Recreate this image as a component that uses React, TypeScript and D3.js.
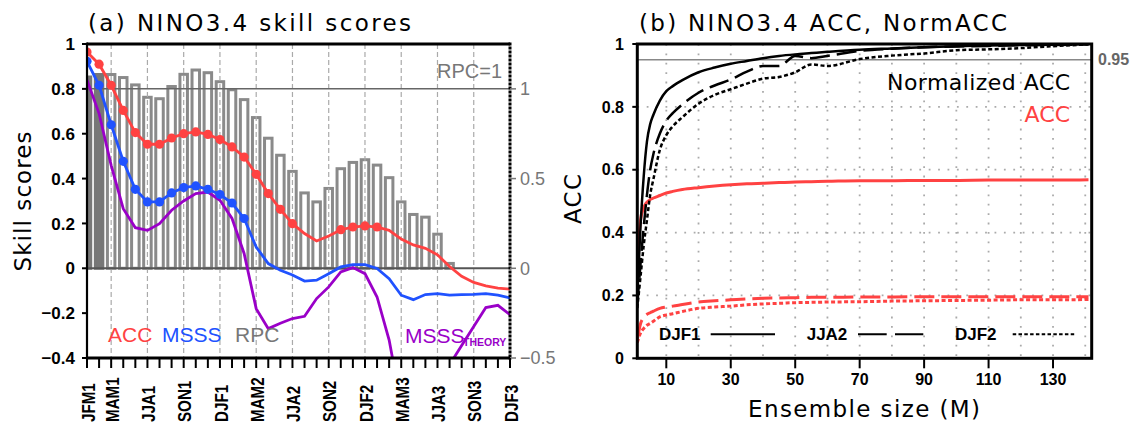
import React from 'react';
import * as d3 from 'd3';

// ---------- Panel (a) data ----------
const seasons = [
  'JFM1','FMA1','MAM1','AMJ1','MJJ1','JJA1','JAS1','ASO1','SON1','OND1','NDJ1','DJF1',
  'JFM2','FMA2','MAM2','AMJ2','MJJ2','JJA2','JAS2','ASO2','SON2','OND2','NDJ2','DJF2',
  'JFM3','FMA3','MAM3','AMJ3','MJJ3','JJA3','JAS3','ASO3','SON3','OND3','NDJ3','DJF3',
];
const labeledSeasons = ['JFM1','MAM1','JJA1','SON1','DJF1','MAM2','JJA2','SON2','DJF2','MAM3','JJA3','SON3','DJF3'];
const yTicksA = [-0.4, -0.2, 0, 0.2, 0.4, 0.6, 0.8, 1];
const yTicksR = [-0.5, 0, 0.5, 1];

const rpc = [
  1.066, 1.08, 1.08, 1.063, 1.022, 0.953, 0.945, 1.013, 1.081, 1.105, 1.09, 1.04,
  0.995, 0.94, 0.84, 0.725, 0.63, 0.54, 0.42, 0.37, 0.445, 0.555, 0.59, 0.605,
  0.575, 0.505, 0.37, 0.3, 0.285, 0.19, 0.027, 0, 0, 0, 0, 0,
];
const rpcFilled = ['JFM1', 'FMA1'];

const acc = [
  0.964, 0.91, 0.816, 0.704, 0.605, 0.553, 0.553, 0.581, 0.6, 0.608, 0.597, 0.574,
  0.541, 0.496, 0.419, 0.333, 0.263, 0.199, 0.155, 0.122, 0.144, 0.172, 0.184, 0.189,
  0.184, 0.169, 0.13, 0.104, 0.089, 0.06, 0.008, -0.036, -0.063, -0.078, -0.088, -0.093,
];
const accMarked = [
  'JFM1','FMA1','MAM1','AMJ1','MJJ1','JJA1','JAS1','ASO1','SON1','OND1','NDJ1','DJF1',
  'JFM2','FMA2','MAM2','AMJ2','MJJ2','JJA2','OND2','NDJ2','DJF2','JFM3',
];

const msss = [
  0.923, 0.816, 0.64, 0.477, 0.352, 0.296, 0.296, 0.336, 0.36, 0.367, 0.352, 0.329,
  0.291, 0.222, 0.095, 0.021, -0.009, -0.03, -0.057, -0.053, -0.024, 0.006, 0.016, 0.016,
  -0.001, -0.046, -0.12, -0.14, -0.117, -0.113, -0.12, -0.117, -0.116, -0.113, -0.12, -0.132,
];
const msssMarked = [
  'JFM1','FMA1','MAM1','AMJ1','MJJ1','JJA1','JAS1','ASO1','SON1','OND1','NDJ1','DJF1','JFM2','FMA2',
];

const msssTheory = [
  0.84, 0.69, 0.459, 0.266, 0.181, 0.169, 0.199, 0.259, 0.3, 0.333, 0.34, 0.303,
  0.222, 0.066, -0.18, -0.269, -0.245, -0.224, -0.214, -0.135, -0.083, -0.016, 0.003, -0.024,
  -0.128, -0.32, -0.61, -0.8, -0.8, -0.65, -0.43, -0.344, -0.26, -0.175, -0.165, -0.207,
];

// ---------- Panel (b) data ----------
const ensM = [1, 2, 3, 4, 5, 6, 8, 10, 12, 15, 20, 25, 30, 35, 40, 45, 50, 55, 60, 70, 80, 90, 100, 110, 120, 130, 141];
const normDJF1 = [0.2, 0.42, 0.58, 0.69, 0.745, 0.775, 0.82, 0.85, 0.866, 0.885, 0.91, 0.925, 0.937, 0.946, 0.955, 0.962, 0.967, 0.971, 0.975, 0.982, 0.986, 0.99, 0.993, 0.995, 0.997, 0.998, 1.0];
const normJJA2 = [0.17, 0.3, 0.42, 0.52, 0.6, 0.65, 0.715, 0.756, 0.78, 0.808, 0.845, 0.868, 0.887, 0.912, 0.93, 0.93, 0.962, 0.955, 0.962, 0.978, 0.985, 0.99, 0.992, 0.994, 0.996, 0.997, 0.999];
const normDJF2 = [0.16, 0.26, 0.36, 0.44, 0.52, 0.57, 0.663, 0.71, 0.738, 0.767, 0.81, 0.838, 0.856, 0.874, 0.89, 0.895, 0.91, 0.935, 0.93, 0.952, 0.963, 0.97, 0.98, 0.983, 0.987, 0.993, 0.999];
const accDJF1 = [0.31, 0.44, 0.48, 0.497, 0.505, 0.51, 0.518, 0.526, 0.531, 0.537, 0.543, 0.548, 0.552, 0.555, 0.557, 0.559, 0.561, 0.562, 0.563, 0.565, 0.565, 0.566, 0.566, 0.567, 0.567, 0.567, 0.568];
const accJJA2 = [0.06, 0.11, 0.13, 0.14, 0.145, 0.15, 0.159, 0.163, 0.166, 0.171, 0.179, 0.183, 0.186, 0.189, 0.191, 0.192, 0.193, 0.194, 0.194, 0.195, 0.195, 0.196, 0.196, 0.196, 0.196, 0.196, 0.196];
const accDJF2 = [0.05, 0.08, 0.095, 0.105, 0.111, 0.118, 0.132, 0.138, 0.142, 0.149, 0.159, 0.163, 0.166, 0.17, 0.173, 0.175, 0.177, 0.178, 0.179, 0.18, 0.182, 0.183, 0.184, 0.185, 0.186, 0.186, 0.187];
const xTicksB = [10, 30, 50, 70, 90, 110, 130];
const xGridB = [10, 20, 30, 40, 50, 60, 70, 80, 90, 100, 110, 120, 130, 140];
const yTicksB = [0, 0.2, 0.4, 0.6, 0.8, 1];
const yGridB = [0.2, 0.4, 0.6, 0.8];
const refLevel = 0.95;

const RED = '#ff4242';
const BLUE = '#2052ff';
const PURPLE = '#9a00c8';
const BARGRAY = '#8a8a8a';
const TITLE_FONT = '"DejaVu Sans", sans-serif';
const TICK_FONT = '"Liberation Sans", Arial, sans-serif';

const fmt = (v: number) => {
  const s = d3.format('~g')(Math.round(v * 100) / 100);
  return s.replace('-', '\u2212');
};

export default function App() {
  // Panel (a) scales
  const xA = d3.scaleLinear().domain([0, seasons.length - 1]).range([87, 510]);
  const yA = d3.scaleLinear().domain([-0.4, 1]).range([358, 44]);
  const yR = d3.scaleLinear().domain([-0.5, 1.25]).range([358, 44]);
  const idx = (s: string) => seasons.indexOf(s);

  const lineA = d3.line<number>().x((_, i) => xA(i)).y((d) => yA(d));

  // Panel (b) scales
  const xB = d3.scaleLinear().domain([1, 142]).range([637.3, 1091.7]);
  const yB = d3.scaleLinear().domain([0, 1]).range([358.3, 44]);
  const lineB = d3.line<number>().x((_, i) => xB(ensM[i])).y((d) => yB(d)).curve(d3.curveMonotoneX);

  const barW = 7.5;
  const [a0, a1] = xA.range();
  const [b0, b1] = xB.range();

  return (
    <svg width={1137} height={425} style={{ position: 'absolute', left: 0, top: 0, background: '#fff' }}>
      <defs>
        <clipPath id="clipA">
          <rect x={a0} y={yA(1)} width={a1 - a0} height={yA(-0.4) - yA(1)} />
        </clipPath>
        <clipPath id="clipB">
          <rect x={b0} y={yB(1)} width={b1 - b0} height={yB(0) - yB(1)} />
        </clipPath>
      </defs>

      {/* ================= Panel (a) ================= */}
      <g clipPath="url(#clipA)">
        {rpc.map((v, i) =>
          v > 0 ? (
            <rect
              key={'bar' + i}
              x={xA(i) - barW / 2}
              y={yR(v)}
              width={barW}
              height={yR(0) - yR(v)}
              fill={rpcFilled.includes(seasons[i]) ? '#777' : '#fff'}
              stroke={rpcFilled.includes(seasons[i]) ? '#777' : BARGRAY}
              strokeWidth={3}
            />
          ) : null
        )}
        {labeledSeasons.slice(1, -1).map((s) => (
          <line key={'vg' + s} x1={xA(idx(s))} x2={xA(idx(s))} y1={yA(1)} y2={yA(-0.4)} stroke="#aaa" strokeWidth={1.2} strokeDasharray="5,3" />
        ))}
        <line x1={a0} x2={a1} y1={yR(1)} y2={yR(1)} stroke="#666" strokeWidth={1.5} />
        <line x1={a0} x2={a1} y1={yA(0)} y2={yA(0)} stroke="#555" strokeWidth={2} />
        <path d={lineA(msssTheory) || ''} fill="none" stroke={PURPLE} strokeWidth={2.8} />
        <path d={lineA(msss) || ''} fill="none" stroke={BLUE} strokeWidth={2.8} />
        <path d={lineA(acc) || ''} fill="none" stroke={RED} strokeWidth={2.8} />
        {msssMarked.map((s) => (
          <circle key={'bm' + s} cx={xA(idx(s))} cy={yA(msss[idx(s)])} r={4.6} fill={BLUE} />
        ))}
        {accMarked.map((s) => (
          <circle key={'rm' + s} cx={xA(idx(s))} cy={yA(acc[idx(s)])} r={4.6} fill={RED} />
        ))}
      </g>

      {/* spines (a) */}
      <line x1={a0} x2={a1} y1={yA(1)} y2={yA(1)} stroke="#000" strokeWidth={3} />
      <line x1={a0} x2={a1} y1={yA(-0.4)} y2={yA(-0.4)} stroke="#000" strokeWidth={3} />
      <line x1={a0} x2={a0} y1={yA(1) - 1.5} y2={yA(-0.4) + 1.5} stroke="#000" strokeWidth={2.2} />
      <line x1={a1} x2={a1} y1={yA(1) - 1.5} y2={yA(-0.4) + 1.5} stroke="#000" strokeWidth={3} strokeDasharray="3,1" />

      {/* left ticks (a) */}
      {yTicksA.map((t) => (
        <g key={'lt' + t}>
          <line x1={a0 - 5} x2={a0} y1={yA(t)} y2={yA(t)} stroke="#000" strokeWidth={2} />
          <text x={75} y={yA(t)} dy="0.36em" textAnchor="end" fontFamily={TICK_FONT} fontWeight="bold" fontSize={17}>
            {fmt(t)}
          </text>
        </g>
      ))}
      {/* right ticks (a) */}
      {yTicksR.map((t) => (
        <g key={'rt' + t}>
          <line x1={a1} x2={a1 + 6} y1={yR(t)} y2={yR(t)} stroke="#777" strokeWidth={1.5} />
          <text x={520} y={yR(t)} dy="0.36em" textAnchor="start" fontFamily={TICK_FONT} fontSize={18} fill="#777">
            {fmt(t)}
          </text>
        </g>
      ))}
      {/* bottom ticks (a) */}
      {seasons.map((s, i) => (
        <line key={'bt' + s} x1={xA(i)} x2={xA(i)} y1={yA(-0.4)} y2={yA(-0.4) + 10} stroke="#000" strokeWidth={2} />
      ))}
      {labeledSeasons.map((s) => (
        <text
          key={'xl' + s}
          transform={`translate(${xA(idx(s)) + 1},422) rotate(-90) scale(0.82,1)`}
          dy="0.36em"
          textAnchor="start"
          fontFamily={TICK_FONT}
          fontWeight="bold"
          fontSize={18.5}
        >
          {s}
        </text>
      ))}

      {/* texts (a) */}
      <text x={88} y={31} fontFamily={TITLE_FONT} fontSize={23} textLength={323} lengthAdjust="spacing">
        (a)  NINO3.4  skill  scores
      </text>
      <text transform="translate(31,201.5) rotate(-90)" textAnchor="middle" fontFamily={TITLE_FONT} fontSize={23} textLength={140} lengthAdjust="spacing">
        Skill  scores
      </text>
      <text x={502} y={78} textAnchor="end" fontFamily={TICK_FONT} fontSize={20} fill="#777">RPC=1</text>
      <text x={108} y={342} fontFamily={TICK_FONT} fontSize={21} fill={RED}>ACC</text>
      <text x={162} y={342} fontFamily={TICK_FONT} fontSize={21} fill={BLUE}>MSSS</text>
      <text x={235} y={342} fontFamily={TICK_FONT} fontSize={21} fill="#777">RPC</text>
      <text x={405} y={343} fontFamily={TICK_FONT} fontSize={21} fill={PURPLE}>MSSS</text>
      <text x={463} y={346} fontFamily={TICK_FONT} fontSize={10.5} fontWeight="bold" fill={PURPLE}>THEORY</text>

      {/* ================= Panel (b) ================= */}
      <g clipPath="url(#clipB)">
        {xGridB.map((m) => (
          <line key={'gx' + m} x1={xB(m)} x2={xB(m)} y1={yB(1)} y2={yB(0)} stroke="#aaa" strokeWidth={1.8} strokeDasharray="1.8,7.6" />
        ))}
        {yGridB.map((v) => (
          <line key={'gy' + v} x1={b0} x2={b1} y1={yB(v)} y2={yB(v)} stroke="#aaa" strokeWidth={1.8} strokeDasharray="1.8,7.6" />
        ))}
        <line x1={b0} x2={b1} y1={yB(refLevel)} y2={yB(refLevel)} stroke="#888" strokeWidth={1.5} />
        <path d={lineB(accDJF2) || ''} fill="none" stroke={RED} strokeWidth={3} strokeDasharray="4,2.5" />
        <path d={lineB(accJJA2) || ''} fill="none" stroke={RED} strokeWidth={3} strokeDasharray="20,7" />
        <path d={lineB(accDJF1) || ''} fill="none" stroke={RED} strokeWidth={3} />
        <path d={lineB(normDJF2) || ''} fill="none" stroke="#000" strokeWidth={2.5} strokeDasharray="4,2.5" />
        <path d={lineB(normJJA2) || ''} fill="none" stroke="#000" strokeWidth={2.5} strokeDasharray="20,7" />
        <path d={lineB(normDJF1) || ''} fill="none" stroke="#000" strokeWidth={2.5} />
      </g>

      {/* spines (b) */}
      <rect x={b0} y={yB(1)} width={b1 - b0} height={yB(0) - yB(1)} fill="none" stroke="#000" strokeWidth={3} />

      {yTicksB.map((t) => (
        <g key={'ybt' + t}>
          <line x1={b0 - 5} x2={b0} y1={yB(t)} y2={yB(t)} stroke="#000" strokeWidth={2} />
          <text x={624} y={yB(t)} dy="0.36em" textAnchor="end" fontFamily={TICK_FONT} fontWeight="bold" fontSize={16}>
            {fmt(t)}
          </text>
        </g>
      ))}
      {xTicksB.map((m) => (
        <g key={'xbt' + m}>
          <line x1={xB(m)} x2={xB(m)} y1={yB(0)} y2={yB(0) + 10} stroke="#000" strokeWidth={2} />
          <text x={xB(m)} y={385} textAnchor="middle" fontFamily={TICK_FONT} fontWeight="bold" fontSize={16}>
            {m}
          </text>
        </g>
      ))}

      <text x={1098} y={65} fontFamily={TICK_FONT} fontWeight="bold" fontSize={16} fill="#666">{refLevel}</text>

      <text x={639} y={31} fontFamily={TITLE_FONT} fontSize={23} textLength={368} lengthAdjust="spacing">
        (b)  NINO3.4  ACC,  NormACC
      </text>
      <text transform="translate(581,199) rotate(-90)" textAnchor="middle" fontFamily={TITLE_FONT} fontSize={23} textLength={50} lengthAdjust="spacing">
        ACC
      </text>
      <text x={748} y={417} fontFamily={TITLE_FONT} fontSize={23} textLength={232} lengthAdjust="spacing">
        Ensemble  size  (M)
      </text>
      <text x={887} y={90} fontFamily={TITLE_FONT} fontSize={22} textLength={183} lengthAdjust="spacing">Normalized  ACC</text>
      <text x={1070} y={121.7} textAnchor="end" fontFamily={TITLE_FONT} fontSize={22} fill={RED}>ACC</text>

      {/* legend (b) */}
      <text x={659} y={340} fontFamily={TICK_FONT} fontWeight="bold" fontSize={17}>DJF1</text>
      <line x1={710.7} x2={775} y1={334.3} y2={334.3} stroke="#000" strokeWidth={2} />
      <text x={806.7} y={340} fontFamily={TICK_FONT} fontWeight="bold" fontSize={17}>JJA2</text>
      <line x1={858} x2={923.3} y1={334.3} y2={334.3} stroke="#000" strokeWidth={2} strokeDasharray="28.7,8.3" />
      <text x={955} y={340} fontFamily={TICK_FONT} fontWeight="bold" fontSize={17}>DJF2</text>
      <line x1={1012.7} x2={1074.3} y1={334.3} y2={334.3} stroke="#000" strokeWidth={2} strokeDasharray="3.5,2.3" />
    </svg>
  );
}
